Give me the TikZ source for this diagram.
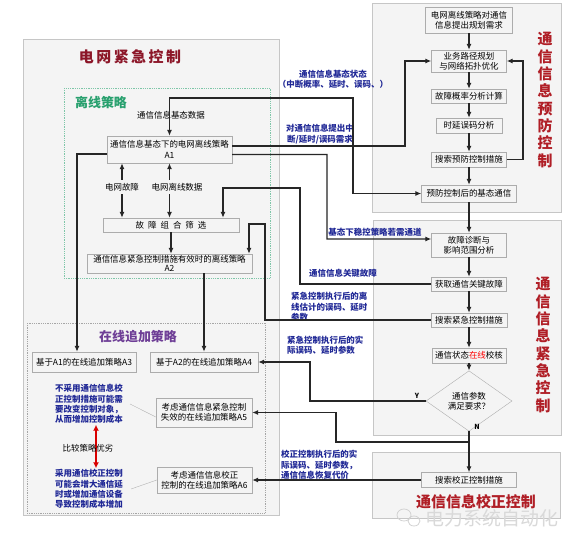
\documentclass[tikz,border=0pt]{standalone}
\usepackage{fontspec}
\setmainfont{Noto Sans CJK SC}
\usetikzlibrary{positioning, arrows.meta, shapes.geometric, calc}

\definecolor{titlered}{RGB}{176,30,38}
\definecolor{darkred}{RGB}{140,22,40}
\definecolor{noteblue}{RGB}{32,40,150}
\definecolor{offgreen}{RGB}{40,160,110}
\definecolor{onpurple}{RGB}{110,62,150}
\definecolor{panelgray}{RGB}{244,244,244}

\begin{document}
\begin{tikzpicture}[x=1bp, y=-1bp,
	font=\fontsize{8.5}{10.3}\selectfont,
	box/.style={draw=gray!65, fill=gray!9, align=center, inner sep=1pt},
	note/.style={text=noteblue, align=center, inner sep=1pt, font=\fontsize{8.5}{10.3}\selectfont\bfseries},
	conn/.style={draw=black!85, line width=1.1pt, -{Latex[length=6pt,width=5pt]}},
	panel/.style={draw=gray!45, line width=0.9pt, fill=panelgray},
	vtitle/.style={text=titlered, align=center, font=\fontsize{15}{17.4}\selectfont\bfseries}]
	\useasboundingbox (0,0) rectangle (586,534);
	\fill[white] (0,0) rectangle (586,534);
	\draw[panel] (23,39) rectangle (279,515);
	\draw[panel] (372,3) rectangle (561,212);
	\draw[panel] (373,220) rectangle (561,435);
	\draw[panel] (372,452) rectangle (560,518);
	\draw[offgreen!60, densely dotted, line width=0.8pt] (64,88) rectangle (270,278);
	\draw[gray!70, densely dotted, line width=0.8pt] (27,323) rectangle (265,513);

	\node[text=darkred, font=\fontsize{15}{15}\selectfont\bfseries] (tEmerg) at (130,57) {电\,网\,紧\,急\,控\,制};
	\node[text=offgreen, font=\fontsize{13}{13}\selectfont\bfseries] (tOff) at (101,103) {离线策略};
	\node[text=onpurple, font=\fontsize{13}{13}\selectfont\bfseries] (tOn) at (138,337) {在线追加策略};
	\node[vtitle] (tPrev) at (545,100) {通\\信\\信\\息\\预\\防\\控\\制};
	\node[vtitle] (tEmc) at (543,345) {通\\信\\信\\息\\紧\\急\\控\\制};
	\node[text=titlered, font=\fontsize{15}{15}\selectfont\bfseries] (tCorr) at (476,502) {通信信息校正控制};
	\node[text=gray!30, font=\fontsize{19}{19}\selectfont] (wm) at (492,518) {电力系统自动化};
	\draw[gray!35, line width=0.8pt] (404,515) ellipse (7bp and 6bp);
	\draw[gray!35, line width=0.8pt] (414,521) ellipse (6bp and 5bp);

	% offline strategy
	\node[box, minimum width=125bp, minimum height=27bp] (A1) at (169.5,149.5) {通信信息基态下的电网离线策略\\A1};
	\node (lbBase) at (171,115) {通信信息基态数据};
	\node (lbFault) at (122,187) {电网故障};
	\node (lbData) at (177,187) {电网离线数据};
	\node[box, minimum width=136bp, minimum height=14bp] (filt) at (171,225) {故\hspace{4bp}障\hspace{4bp}组\hspace{4bp}合\hspace{4bp}筛\hspace{4bp}选};
	\node[box, minimum width=165bp, minimum height=19bp, font=\fontsize{8.5}{9}\selectfont] (A2) at (169.5,263.5) {通信信息紧急控制措施有效时的离线策略\\A2};

	% online strategy
	\node[box, minimum width=104bp, minimum height=20bp] (A3) at (84,362) {基于A1的在线追加策略A3};
	\node[box, minimum width=108bp, minimum height=20bp] (A4) at (204,362) {基于A2的在线追加策略A4};
	\node[box, minimum width=96bp, minimum height=29bp] (A5) at (204,412.5) {考虑通信信息紧急控制\\失效的在线追加策略A5};
	\node[box, minimum width=95bp, minimum height=26bp] (A6) at (204.5,480) {考虑通信信息校正\\控制的在线追加策略A6};
	\node[note] (cmpA) at (89,404) {不采用通信信息校\\正控制措施可能需\\要改变控制对象，\\从而增加控制成本};
	\node[note] (cmpB) at (89,489) {采用通信校正控制\\可能会增大通信延\\时或增加通信设备\\导致控制成本增加};
	\draw[red!85!black, line width=1.6pt, {Latex[length=6pt,width=6pt]}-{Latex[length=6pt,width=6pt]}] ([xshift=7bp]cmpA.south) -- ([xshift=7bp]cmpB.north);
	\node (cmp) at (88,448) {比较策略优劣};
	\draw[gray!60] ([xshift=6bp]cmpA.east) -- ([yshift=-4.5bp]A5.west);
	\draw[gray!60] ([xshift=7bp]cmpB.east) -- (A6.west);

	% communication side
	\node[box, minimum width=87bp, minimum height=26bp] (plan) at (469,20) {电网离线策略对通信\\信息提出规划需求};
	\node[box, minimum width=75bp, minimum height=22bp] (route) at (469,61) {业务路径规划\\与网络拓扑优化};
	\node[box, minimum width=75bp, minimum height=14bp] (prob) at (469,96) {故障概率分析计算};
	\node[box, minimum width=66bp, minimum height=15bp] (delay) at (469,125.5) {时延误码分析};
	\node[box, minimum width=75bp, minimum height=15bp] (search) at (469,159.5) {搜索预防控制措施};
	\node[box, minimum width=95bp, minimum height=17bp] (basec) at (469,193.5) {预防控制后的基态通信};
	\node[box, minimum width=75bp, minimum height=24bp] (diag) at (469,245) {故障诊断与\\影响范围分析};
	\node[box, minimum width=75bp, minimum height=14bp] (key) at (469,284) {获取通信关键故障};
	\node[box, minimum width=76bp, minimum height=14bp] (emsr) at (469,320) {搜索紧急控制措施};
	\node[box, minimum width=74bp, minimum height=15bp] (check) at (469,355.5) {通信状态\textcolor{red}{在线}校核};
	\node[box, diamond, inner sep=0pt, minimum width=86bp, minimum height=38bp] (dec) at (469,401) {通信参数\\满足要求？};
	\node[box, minimum width=95bp, minimum height=15bp] (corr) at (469,480) {搜索校正控制措施};

	\node[note] (lbState) at (333,79) {通信信息基态状态\\（中断概率、延时、误码、）};
	\node[note] (lbReq) at (320,134) {对通信信息提出中\\断/延时/误码需求};
	\node[note] (lbNeed) at (375,232) {基态下稳控策略若需通道};
	\node[note] (lbKey) at (343,273) {通信信息关键故障};
	\node[note, align=left, anchor=west] (lbEst) at (290,307) {紧急控制执行后的离\\线估计的误码、延时\\参数};
	\node[note, align=left, anchor=west] (lbAct) at (286,345) {紧急控制执行后的实\\际误码、延时参数};
	\node[note, align=left, anchor=west] (lbCorr) at (280,465) {校正控制执行后的实\\际误码、延时参数，\\通信信息恢复代价};
	\node[font=\fontsize{7}{7}\selectfont\bfseries] (lbY) at (417,396) {Y};
	\node[font=\fontsize{7}{7}\selectfont\bfseries] (lbN) at (477,427) {N};

	\coordinate (kA) at (353,98);
	\coordinate (kB) at (405,61);
	\coordinate (kC) at (327,239);
	\coordinate (kD) at (300,188);
	\coordinate (kE) at (265,224);
	\coordinate (kF) at (310,362);
	\coordinate (kG) at (469,442);
	\coordinate (kH) at (336,412.5);
	\coordinate (kI) at (523,61);

	\foreach \a/\b in {plan/route, route/prob, prob/delay, delay/search, search/basec, basec/diag, diag/key, key/emsr, emsr/check, check/dec, dec/corr}
		\draw[conn] (\a) -- (\b);
	\draw[conn] (search.east) -| (kI) -- (route.east);
	\draw[conn, {Latex[length=6pt,width=5pt]}-{Latex[length=6pt,width=5pt]}] (A1.north) |- (kA) |- (basec.west);
	\draw[conn] ([yshift=3.5bp]A1.east) -| (kB) -- (route.west);
	\draw[conn] ([yshift=-5bp]A1.east) -| (kC) -- ([yshift=6bp]diag.west);
	\draw[conn] ([yshift=-4.5bp]A1.west) -| ([xshift=-7bp]A3.north);
	\draw[conn] (lbFault.north) -- (lbFault.north |- A1.south);
	\draw[conn] (lbFault.south) -- (lbFault.south |- filt.north);
	\draw[conn] (A1.south |- lbData.north) -- (A1.south);
	\draw[conn] (A1.south |- lbData.south) -- (A1.south |- filt.north);
	\draw[conn] (filt.south) -- (filt.south |- A2.north);
	\draw[conn] (A4.north |- A2.south) -- (A4.north);
	\draw[conn] (key.west) -| (kD) -| ([xshift=52bp]filt.north);
	\draw[conn] (emsr.west) -| (kE) -| ([xshift=79.5bp]A2.north);
	\draw[conn] (dec.west) -| (kF) -- (A4.east);
	\draw[conn] (kG) -| (kH) -- (A5.east);
	\draw[conn] (corr.west) -- (A6.east);
\end{tikzpicture}
\end{document}
